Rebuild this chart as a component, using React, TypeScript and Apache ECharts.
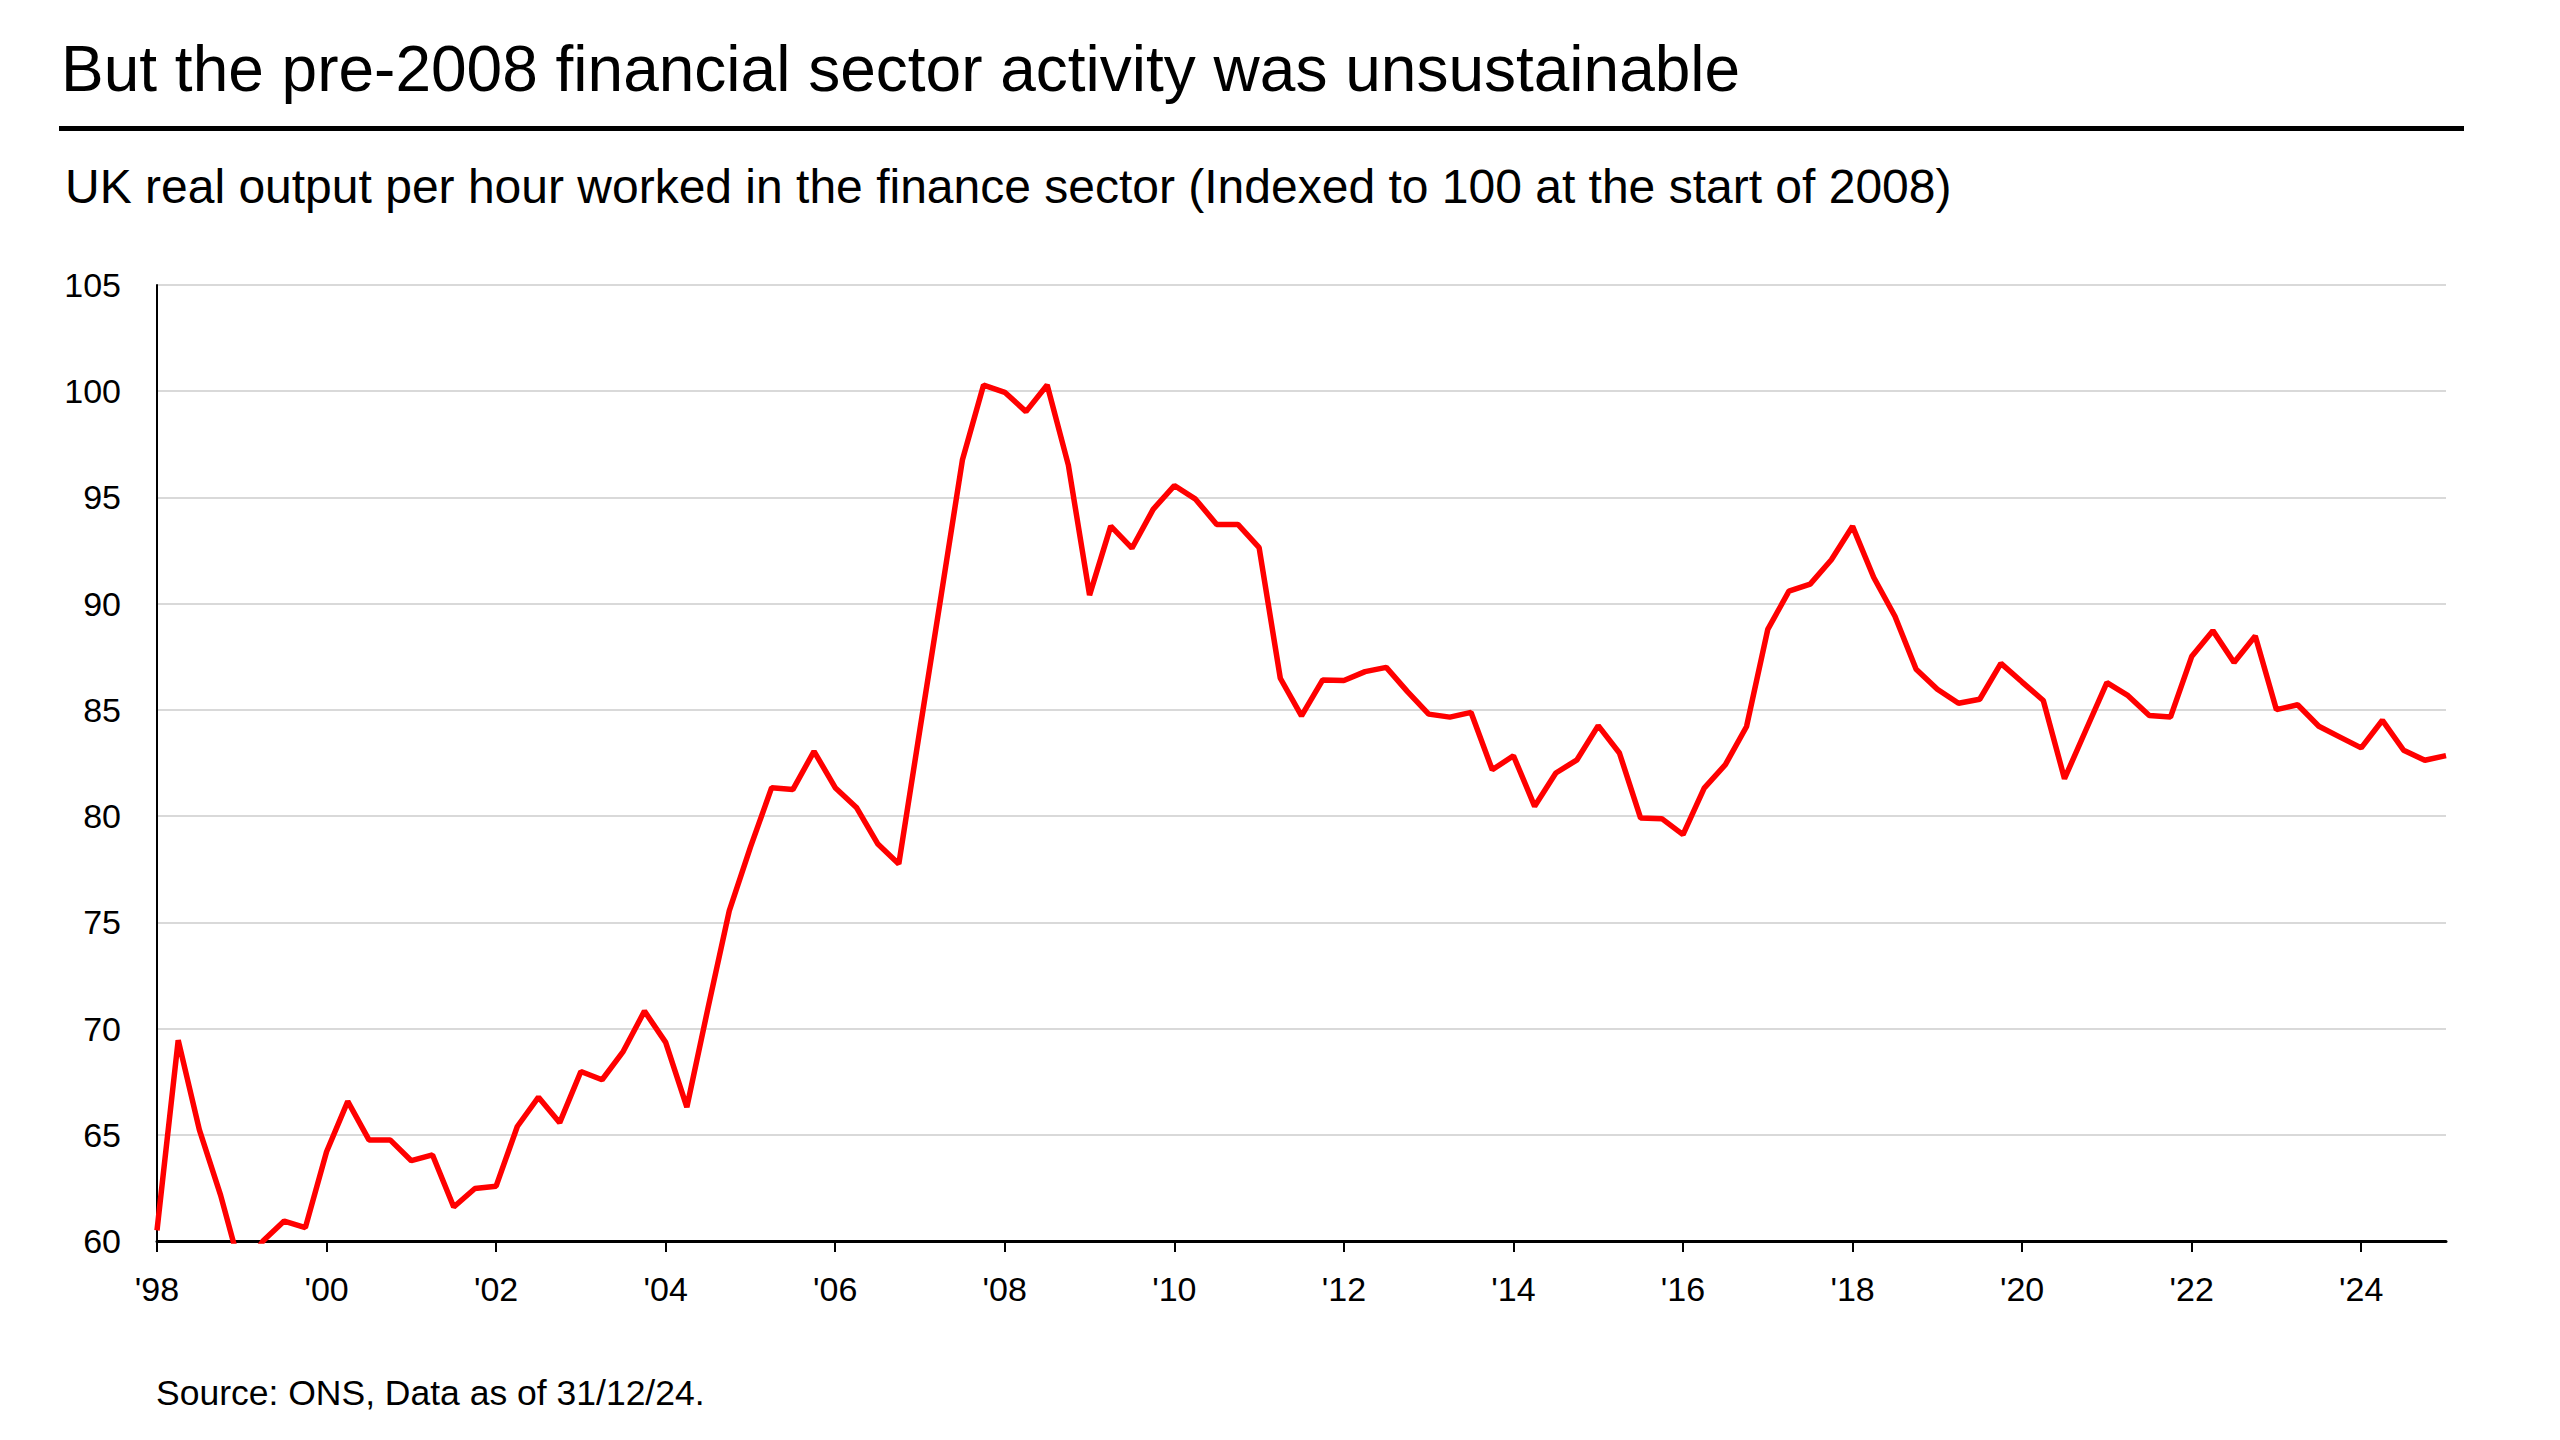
import React, { useEffect, useRef } from "react";
import * as echarts from "echarts";

const TITLE = "But the pre-2008 financial sector activity was unsustainable";
const SUBTITLE =
  "UK real output per hour worked in the finance sector (Indexed to 100 at the start of 2008)";
const SOURCE = "Source: ONS, Data as of 31/12/24.";

// Quarterly observations, plotted at the end of each quarter
const quarters: string[] = [
  "1997 Q4",
  "1998 Q1", "1998 Q2", "1998 Q3", "1998 Q4",
  "1999 Q1", "1999 Q2", "1999 Q3", "1999 Q4",
  "2000 Q1", "2000 Q2", "2000 Q3", "2000 Q4",
  "2001 Q1", "2001 Q2", "2001 Q3", "2001 Q4",
  "2002 Q1", "2002 Q2", "2002 Q3", "2002 Q4",
  "2003 Q1", "2003 Q2", "2003 Q3", "2003 Q4",
  "2004 Q1", "2004 Q2", "2004 Q3", "2004 Q4",
  "2005 Q1", "2005 Q2", "2005 Q3", "2005 Q4",
  "2006 Q1", "2006 Q2", "2006 Q3", "2006 Q4",
  "2007 Q1", "2007 Q2", "2007 Q3", "2007 Q4",
  "2008 Q1", "2008 Q2", "2008 Q3", "2008 Q4",
  "2009 Q1", "2009 Q2", "2009 Q3", "2009 Q4",
  "2010 Q1", "2010 Q2", "2010 Q3", "2010 Q4",
  "2011 Q1", "2011 Q2", "2011 Q3", "2011 Q4",
  "2012 Q1", "2012 Q2", "2012 Q3", "2012 Q4",
  "2013 Q1", "2013 Q2", "2013 Q3", "2013 Q4",
  "2014 Q1", "2014 Q2", "2014 Q3", "2014 Q4",
  "2015 Q1", "2015 Q2", "2015 Q3", "2015 Q4",
  "2016 Q1", "2016 Q2", "2016 Q3", "2016 Q4",
  "2017 Q1", "2017 Q2", "2017 Q3", "2017 Q4",
  "2018 Q1", "2018 Q2", "2018 Q3", "2018 Q4",
  "2019 Q1", "2019 Q2", "2019 Q3", "2019 Q4",
  "2020 Q1", "2020 Q2", "2020 Q3", "2020 Q4",
  "2021 Q1", "2021 Q2", "2021 Q3", "2021 Q4",
  "2022 Q1", "2022 Q2", "2022 Q3", "2022 Q4",
  "2023 Q1", "2023 Q2", "2023 Q3", "2023 Q4",
  "2024 Q1", "2024 Q2", "2024 Q3", "2024 Q4",
];

const productivity: number[] = [
  60.5,
  69.45, 65.23, 62.16, 58.5,
  60.0, 60.94, 60.63, 64.2,
  66.57, 64.76, 64.76, 63.78,
  64.05, 61.6, 62.47, 62.58,
  65.39, 66.77, 65.57, 67.98,
  67.59, 68.93, 70.82, 69.35,
  66.3, 70.98, 75.54, 78.54,
  81.34, 81.25, 83.05, 81.34,
  80.41, 78.7, 77.75, 84.1,
  90.4, 96.76, 100.29, 99.95,
  99.04, 100.29, 96.52, 90.4,
  93.65, 92.61, 94.44, 95.56,
  94.92, 93.73, 93.73, 92.64,
  86.49, 84.72, 86.41, 86.38,
  86.8, 87.0, 85.86, 84.8,
  84.66, 84.88, 82.18, 82.84,
  80.46, 82.03, 82.65, 84.26,
  82.97, 79.91, 79.88, 79.13,
  81.32, 82.42, 84.22, 88.79,
  90.59, 90.92, 92.07, 93.64,
  91.23, 89.41, 86.91, 85.97,
  85.31, 85.5, 87.19, 86.31,
  85.44, 81.76, 84.03, 86.28,
  85.67, 84.74, 84.66, 87.51,
  88.73, 87.23, 88.48, 85.01,
  85.24, 84.23, 83.72, 83.21,
  84.51, 83.1, 82.63, 82.85,
];

const xTickYears: number[] = [
  1998, 2000, 2002, 2004, 2006, 2008, 2010, 2012, 2014, 2016, 2018, 2020, 2022, 2024,
];
const yTicks: number[] = [60, 65, 70, 75, 80, 85, 90, 95, 100, 105];

const FONT = "'Liberation Sans', Arial, Helvetica, sans-serif";

function quarterEnd(label: string): number {
  const [y, q] = label.split(" Q");
  return Number(y) + Number(q) / 4;
}

export default function App() {
  const ref = useRef<HTMLDivElement>(null);

  useEffect(() => {
    if (!ref.current) return;
    const chart = echarts.init(ref.current, undefined, { renderer: "svg" });
    const data = quarters.map((q, i) => [quarterEnd(q), productivity[i]]);

    chart.setOption({
      animation: false,
      backgroundColor: "#ffffff",
      textStyle: { fontFamily: FONT },
      grid: { left: 157, right: 114, top: 285, bottom: 199, containLabel: false },
      xAxis: {
        type: "value",
        min: 1998,
        max: 2025,
        interval: 2,
        axisLine: { show: true, onZero: false, lineStyle: { color: "#000000", width: 3 } },
        axisTick: {
          show: true,
          length: 11,
          customValues: xTickYears,
          lineStyle: { color: "#000000", width: 2 },
        },
        axisLabel: {
          customValues: xTickYears,
          fontSize: 34,
          color: "#000000",
          fontFamily: FONT,
          margin: 31,
          formatter: (v: number) => "'" + String(Math.round(v)).slice(2),
        },
        splitLine: { show: false },
      },
      yAxis: {
        type: "value",
        min: yTicks[0],
        max: yTicks[yTicks.length - 1],
        interval: 5,
        axisLine: { show: true, lineStyle: { color: "#000000", width: 2 } },
        axisTick: { show: false },
        axisLabel: { fontSize: 34, color: "#000000", fontFamily: FONT, margin: 36 },
        splitLine: { show: true, lineStyle: { color: "#d9d9d9", width: 2 } },
      },
      series: [
        {
          type: "line",
          data,
          showSymbol: false,
          clip: true,
          lineStyle: { color: "#ff0000", width: 5.5 },
          itemStyle: { color: "#ff0000" },
        },
      ],
      graphic: [
        {
          type: "text",
          x: 61,
          y: 69,
          style: {
            text: TITLE,
            fontSize: 64,
            fontFamily: FONT,
            fill: "#000000",
            verticalAlign: "middle",
            align: "left",
          },
        },
        {
          type: "rect",
          shape: { x: 59, y: 126, width: 2405, height: 5 },
          style: { fill: "#000000" },
        },
        {
          type: "text",
          x: 65,
          y: 186,
          style: {
            text: SUBTITLE,
            fontSize: 48,
            fontFamily: FONT,
            fill: "#000000",
            verticalAlign: "middle",
            align: "left",
          },
        },
        {
          type: "text",
          x: 156,
          y: 1393,
          style: {
            text: SOURCE,
            fontSize: 35.5,
            fontFamily: FONT,
            fill: "#000000",
            verticalAlign: "middle",
            align: "left",
          },
        },
      ],
    });

    return () => chart.dispose();
  }, []);

  return (
    <div
      ref={ref}
      style={{ position: "fixed", left: 0, top: 0, width: 2560, height: 1440, background: "#fff" }}
    />
  );
}
